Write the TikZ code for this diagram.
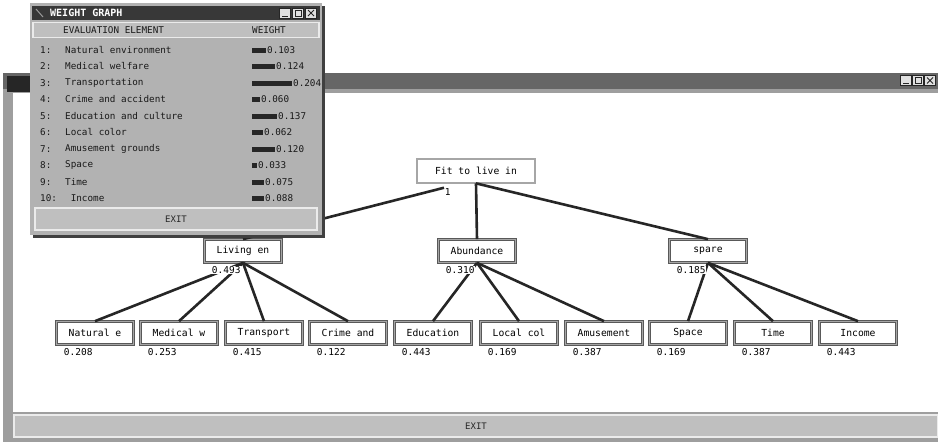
\documentclass[tikz,border=0pt]{standalone}
\usepackage{fontspec}
\setmonofont{DejaVu Sans Mono}
\usetikzlibrary{positioning}

\begin{document}
\begin{tikzpicture}[x=1pt,y=-1pt,
    box/.style={draw=black!65, double=black!35, double distance=1.1pt, line width=0.7pt, fill=white, minimum width=77pt, minimum height=23pt, inner sep=0pt, text=black, font=\ttfamily\fontsize{9.7}{11}\selectfont},
    wt/.style={fill=white, inner sep=0.6pt, anchor=north west, text=black, font=\ttfamily\fontsize{9.5}{11}\selectfont},
    link/.style={line width=2.6pt, draw=black!85},
    btn/.style={draw=black!8, line width=1.2pt, fill=black!25, inner sep=0pt, text=black!85, font=\ttfamily\fontsize{9}{11}\selectfont},
    ctl/.style={draw=black!85, fill=black!12, line width=0.6pt, minimum width=11pt, minimum height=10pt, inner sep=0pt},
    row/.style={anchor=west, inner sep=0pt, text=black!90, font=\ttfamily\fontsize{9.3}{11}\selectfont}]

    \useasboundingbox (0,0) rectangle (938,445);
    \fill[white] (0,0) rectangle (938,445);

    % main window
    \fill[black!38] (3,73) rectangle (938,442);
    \fill[black!60] (3,73) rectangle (938,89);
    \fill[black!85] (7,76) rectangle (30,92);
    \fill[white] (13,93) rectangle (938,412);
    \node[btn, minimum width=924pt, minimum height=22pt] (mexit) at (476,426) {EXIT};
    \node[ctl] (mc1) at (906,80.5) {};
    \node[ctl] (mc2) at (918,80.5) {};
    \node[ctl] (mc3) at (930,80.5) {};
    \draw[black!85, line width=0.8pt] ([xshift=-3pt,yshift=-3pt]mc1.center) -- ([xshift=3pt,yshift=-3pt]mc1.center);
    \draw[black!85, line width=0.6pt] ([xshift=-3pt,yshift=-3pt]mc2.center) rectangle ([xshift=3pt,yshift=3pt]mc2.center);
    \draw[black!85, line width=0.8pt] ([xshift=-3pt,yshift=-3pt]mc3.center) -- ([xshift=3pt,yshift=3pt]mc3.center)
        ([xshift=-3pt,yshift=3pt]mc3.center) -- ([xshift=3pt,yshift=-3pt]mc3.center);

    % tree
    \node[box, minimum width=118pt, minimum height=24pt] (n1) at (476,171) {Fit to live in};

    \node[box] (n2) at (243,251) {Living en};
    \node[box] (n3) at (477,251) {Abundance};
    \node[box] (n4) at (708,251) {spare};

    \node[box] (n5) at (95,333) {Natural e};
    \node[box] (n6) at (179,333) {Medical w};
    \node[box] (n7) at (264,333) {Transport};
    \node[box] (n8) at (348,333) {Crime and};
    \node[box] (n9) at (433,333) {Education};
    \node[box] (n10) at (519,333) {Local col};
    \node[box] (n11) at (604,333) {Amusement};
    \node[box] (n12) at (688,333) {Space};
    \node[box] (n13) at (773,333) {Time};
    \node[box] (n14) at (858,333) {Income};

    \node[wt, anchor=west] (l1) at (444,192) {1};

    \path[link]
        (l1.north west) edge (n2.north)
        (n1.south) edge (n3.north)
        (n1.south) edge (n4.north)

        (n2.south) edge (n5.north)
        (n2.south) edge (n6.north)
        (n2.south) edge (n7.north)
        (n2.south) edge (n8.north)
        (n3.south) edge (n9.north)
        (n3.south) edge (n10.north)
        (n3.south) edge (n11.north)
        (n4.south) edge (n12.north)
        (n4.south) edge (n13.north)
        (n4.south) edge (n14.north);

    \node[wt] (l2) at ([xshift=7pt,yshift=-3pt]n2.south west) {0.493};
    \node[wt] (l3) at ([xshift=7pt,yshift=-3pt]n3.south west) {0.310};
    \node[wt] (l4) at ([xshift=7pt,yshift=-3pt]n4.south west) {0.185};
    \foreach \n/\v in {5/0.208, 6/0.253, 7/0.415, 8/0.122, 9/0.443, 10/0.169, 11/0.387, 12/0.169, 13/0.387, 14/0.443}
        \node[wt] (l\n) at ([xshift=7pt,yshift=-3pt]n\n.south west) {\v};

    % weight graph window
    \fill[black!75] (33,6) rectangle (325,238);
    \fill[black!30] (30,3) rectangle (322,235);
    \fill[black!78] (32,6) rectangle (320,20);
    \draw[black!40, line width=1pt] (36,9) -- (43,17);
    \node[anchor=west, inner sep=0pt, text=white, font=\ttfamily\bfseries\fontsize{10}{11}\selectfont] (wtitle) at (50,13) {WEIGHT GRAPH};
    \node[ctl] (wc1) at (285,13) {};
    \node[ctl] (wc2) at (298,13) {};
    \node[ctl] (wc3) at (311,13) {};
    \draw[black!85, line width=0.8pt] ([xshift=-3pt,yshift=-3pt]wc1.center) -- ([xshift=3pt,yshift=-3pt]wc1.center);
    \draw[black!85, line width=0.6pt] ([xshift=-3pt,yshift=-3pt]wc2.center) rectangle ([xshift=3pt,yshift=3pt]wc2.center);
    \draw[black!85, line width=0.8pt] ([xshift=-3pt,yshift=-3pt]wc3.center) -- ([xshift=3pt,yshift=3pt]wc3.center)
        ([xshift=-3pt,yshift=3pt]wc3.center) -- ([xshift=3pt,yshift=-3pt]wc3.center);

    \node[btn, minimum width=286pt, minimum height=15pt] (hdr) at (176,30) {};
    \node[row] (hel) at (63,30) {EVALUATION ELEMENT};
    \node[row] (hwt) at (252,30) {WEIGHT};

    \foreach \i/\el/\len/\v in {1/Natural environment/14/0.103, 2/Medical welfare/23/0.124, 3/Transportation/40/0.204,
        4/Crime and accident/8/0.060, 5/Education and culture/25/0.137, 6/Local color/11/0.062,
        7/Amusement grounds/23/0.120, 8/Space/5/0.033, 9/Time/12/0.075, 10/{\ Income}/12/0.088}
    {
        \node[row] (r\i) at (40,33.5+16.5*\i) {\i:};
        \node[row] (e\i) at (65,33.5+16.5*\i) {\el};
        \fill[black!85] (252,31+16.5*\i) rectangle ++(\len,5);
        \node[row] (v\i) at (253+\len,33.5+16.5*\i) {\v};
    }

    \node[btn, minimum width=282pt, minimum height=22pt] (wexit) at (176,219) {EXIT};
\end{tikzpicture}
\end{document}
